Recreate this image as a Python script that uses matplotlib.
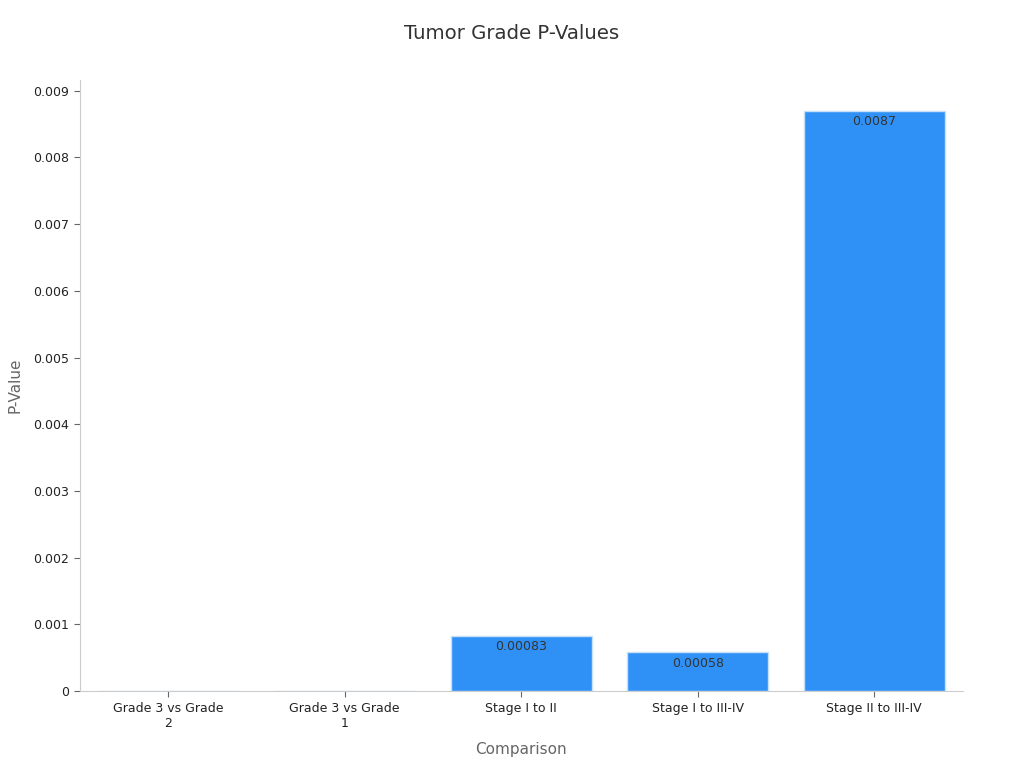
import matplotlib
matplotlib.use("Agg")
import matplotlib.pyplot as plt

categories = ["Grade 3 vs Grade\n2", "Grade 3 vs Grade\n1", "Stage I to II", "Stage I to III-IV", "Stage II to III-IV"]
p_values = [1e-7, 1e-5, 0.00083, 0.00058, 0.0087]
labels = ["", "", "0.00083", "0.00058", "0.0087"]

plt.rcParams['font.family'] = ['DejaVu Sans']
fig = plt.figure(figsize=(10.24, 7.68), dpi=100)
ax = fig.add_axes([0.078, 0.1, 0.862, 0.796])

x = range(len(categories))
bars = ax.bar(x, p_values, width=0.8, color="#2F91F6", edgecolor="#C6E0F8", linewidth=1.0)
for b, lab in zip(bars, labels):
    if lab:
        ax.text(b.get_x() + b.get_width() / 2, b.get_height() - 0.00007, lab,
                ha="center", va="top", fontsize=9, color="#333333")

ax.set_xlim(-0.5, 4.5)
ax.set_ylim(0, 0.00916)
ax.set_yticks([0, 0.001, 0.002, 0.003, 0.004, 0.005, 0.006, 0.007, 0.008, 0.009])
ax.set_yticklabels(["0", "0.001", "0.002", "0.003", "0.004", "0.005", "0.006", "0.007", "0.008", "0.009"])
ax.set_xticks(list(x))
ax.set_xticklabels(categories)
ax.tick_params(axis="both", labelsize=9, labelcolor="#222222", color="#666666", length=4, width=0.8)
for s in ["top", "right"]:
    ax.spines[s].set_visible(False)
for s in ["left", "bottom"]:
    ax.spines[s].set_color("#cccccc")
    ax.spines[s].set_linewidth(0.8)

ax.set_xlabel("Comparison", fontsize=11, color="#666666", labelpad=9)
ax.set_ylabel("P-Value", fontsize=11, color="#666666", labelpad=8)
fig.text(0.5, 0.957, "Tumor Grade P-Values", ha="center", va="center", fontsize=14.2, color="#333333")

fig.savefig("out.png", dpi=100)
